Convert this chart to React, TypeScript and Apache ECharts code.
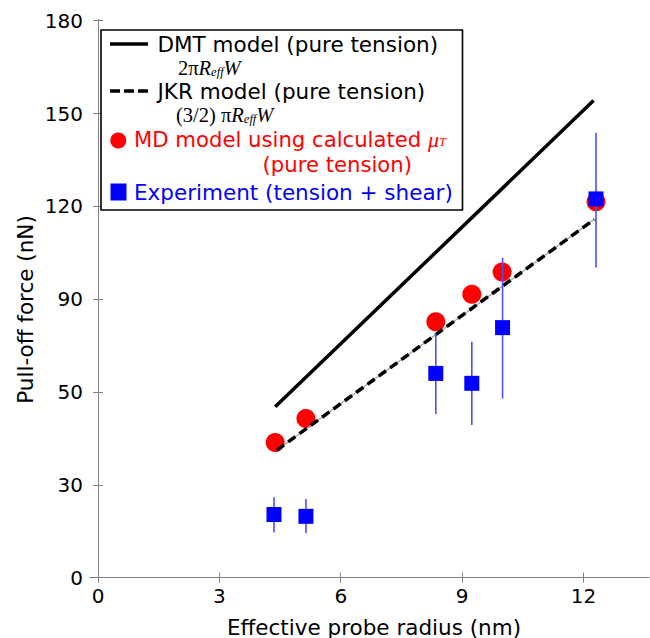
import React, { useEffect, useRef } from "react";
import * as echarts from "echarts";

const xTicks = [0, 3, 6, 9, 12];
const yTicks = [0, 30, 60, 90, 120, 150, 180];
const yTickLabels = ["0", "30", "50", "90", "120", "150", "180"];

const dmtX = [4.38, 12.25];
const dmtY = [55.2, 154.2];
const jkrX = [4.42, 12.27];
const jkrY = [41.2, 115.8];

const mdX = [4.38, 5.14, 8.35, 9.24, 9.99, 12.31];
const mdY = [43.7, 51.4, 82.7, 91.6, 98.8, 121.5];

const expX = [4.35, 5.14, 8.35, 9.24, 10.0, 12.31];
const expY = [20.4, 19.8, 66.0, 62.8, 80.8, 122.4];
const expLow = [14.6, 14.3, 52.9, 49.3, 57.9, 100.2];
const expHigh = [26.0, 25.4, 79.0, 76.2, 103.4, 143.8];

const FONT = "DejaVu Sans";
const SERIF = "Liberation Serif";
const LF = 21.5;

export default function App() {
  const ref = useRef<HTMLDivElement>(null);
  useEffect(() => {
    if (!ref.current) return;
    const chart = echarts.init(ref.current, undefined, { renderer: "svg" });
    const axisLine = { show: true, lineStyle: { color: "#808080", width: 1 } };
    const axisTickIn = (vals: number[]) => ({
      show: true,
      inside: true,
      length: 5,
      customValues: vals,
      lineStyle: { color: "#808080", width: 1 },
    });
    const plainText = (text: string, x: number, y: number, color: string, size = LF) => ({
      type: "text",
      x,
      y,
      style: {
        text,
        fill: color,
        fontFamily: FONT,
        fontSize: size,
        lineHeight: 19,
        verticalAlign: "middle",
      },
      z: 101,
    });
    const formulaRich = (color: string) => ({
      n: { fontFamily: SERIF, fontSize: 20.5, fill: color, lineHeight: 19 },
      i: { fontFamily: SERIF, fontSize: 20.5, fontStyle: "italic", fill: color, lineHeight: 19 },
      s: { fontFamily: SERIF, fontSize: 12.5, fontStyle: "italic", fill: color, padding: [7, 0, 0, 0], lineHeight: 12 },
    });
    const option: any = {
      animation: false,
      backgroundColor: "#ffffff",
      grid: { left: 90, right: 1, top: 19.5, bottom: 57, containLabel: false },
      xAxis: [
        {
          type: "value",
          min: -0.198,
          max: 13.62,
          axisLine,
          axisTick: axisTickIn(xTicks),
          splitLine: { show: false },
          axisLabel: {
            customValues: xTicks,
            color: "#000",
            fontFamily: FONT,
            fontSize: 20,
            margin: 5,
          },
        },
        {
          type: "value",
          position: "top",
          min: -0.198,
          max: 13.62,
          axisLine,
          axisTick: axisTickIn(xTicks),
          splitLine: { show: false },
          axisLabel: { show: false },
        },
      ],
      yAxis: [
        {
          type: "value",
          min: -1.1,
          max: 180.4,
          axisLine,
          axisTick: axisTickIn(yTicks),
          splitLine: { show: false },
          axisLabel: {
            customValues: yTicks,
            color: "#000",
            fontFamily: FONT,
            fontSize: 20,
            margin: 7,
            formatter: (v: number) => {
              const i = yTicks.indexOf(v);
              return i >= 0 ? yTickLabels[i] : "";
            },
          },
        },
        {
          type: "value",
          position: "right",
          min: -1.1,
          max: 180.4,
          axisLine,
          axisTick: axisTickIn(yTicks),
          splitLine: { show: false },
          axisLabel: { show: false },
        },
      ],
      series: [
        {
          name: "DMT model (pure tension)",
          type: "line",
          data: dmtX.map((x, i) => [x, dmtY[i]]),
          symbol: "none",
          lineStyle: { color: "#000", width: 3.5, type: "solid" },
          z: 3,
        },
        {
          name: "MD model",
          type: "scatter",
          data: mdX.map((x, i) => [x, mdY[i]]),
          symbol: "circle",
          symbolSize: 19,
          itemStyle: { color: "#ff0000", opacity: 1 },
          z: 4,
        },
        {
          name: "JKR guide",
          type: "line",
          data: jkrX.map((x, i) => [x, jkrY[i]]),
          symbol: "none",
          lineStyle: { color: "#9a9a9a", width: 1.2, type: "solid" },
          z: 5,
        },
        {
          name: "JKR model (pure tension)",
          type: "line",
          data: jkrX.map((x, i) => [x, jkrY[i]]),
          symbol: "none",
          lineStyle: { color: "#000", width: 3.5, type: [9, 5] },
          z: 6,
        },
        {
          name: "error",
          type: "custom",
          data: expX.map((x, i) => [x, expLow[i], expHigh[i]]),
          renderItem: (params: any, api: any) => {
            const x = api.value(0);
            const p1 = api.coord([x, api.value(1)]);
            const p2 = api.coord([x, api.value(2)]);
            return {
              type: "line",
              shape: { x1: p1[0], y1: p1[1], x2: p2[0], y2: p2[1] },
              style: { stroke: "#4d4dff", lineWidth: 1.6 },
            };
          },
          z: 7,
        },
        {
          name: "Experiment (tension + shear)",
          type: "scatter",
          data: expX.map((x, i) => [x, expY[i]]),
          symbol: "rect",
          symbolSize: 15,
          itemStyle: { color: "#0000ff", opacity: 1 },
          z: 8,
        },
      ],
      graphic: [
        {
          type: "text",
          x: 374,
          y: 627,
          style: {
            text: "Effective probe radius (nm)",
            fill: "#000",
            fontFamily: FONT,
            fontSize: LF,
            align: "center",
            verticalAlign: "middle",
          },
        },
        {
          type: "text",
          x: 25,
          y: 309.5,
          rotation: Math.PI / 2,
          style: {
            text: "Pull-off force (nN)",
            fill: "#000",
            fontFamily: FONT,
            fontSize: LF,
            align: "center",
            verticalAlign: "middle",
          },
        },
        {
          type: "rect",
          shape: { x: 101, y: 30, width: 361.5, height: 180 },
          style: { fill: "#fff", stroke: "#000", lineWidth: 1.6 },
          z: 100,
        },
        {
          type: "line",
          shape: { x1: 110, y1: 44, x2: 148, y2: 44 },
          style: { stroke: "#000", lineWidth: 3.3 },
          z: 101,
        },
        plainText("DMT model (pure tension)", 157.5, 44, "#000"),
        {
          type: "text",
          x: 178,
          y: 68,
          style: {
            text: "{n|2π}{i|R}{s|eff}{i|W}",
            verticalAlign: "middle",
            rich: formulaRich("#000"),
          },
          z: 101,
        },
        {
          type: "line",
          shape: { x1: 110, y1: 91, x2: 148, y2: 91 },
          style: { stroke: "#000", lineWidth: 3.3, lineDash: [10, 4] },
          z: 101,
        },
        plainText("JKR model (pure tension)", 157.5, 91, "#000"),
        {
          type: "text",
          x: 176,
          y: 115,
          style: {
            text: "{n|(3/2) π}{i|R}{s|eff}{i|W}",
            verticalAlign: "middle",
            rich: formulaRich("#000"),
          },
          z: 101,
        },
        {
          type: "circle",
          shape: { cx: 118.3, cy: 140.5, r: 8 },
          style: { fill: "#ff0000" },
          z: 101,
        },
        {
          type: "text",
          x: 134,
          y: 139.6,
          style: {
            text: "{a|MD model using calculated }{m|μ}{t|T}",
            verticalAlign: "middle",
            rich: {
              a: { fontFamily: FONT, fontSize: 21.2, fill: "#ff0000", lineHeight: 19 },
              m: { fontFamily: SERIF, fontSize: 22, fontStyle: "italic", fill: "#ff0000", lineHeight: 19 },
              t: { fontFamily: SERIF, fontSize: 12.5, fontStyle: "italic", fill: "#ff0000", padding: [5, 0, 0, 0], lineHeight: 12 },
            },
          },
          z: 101,
        },
        plainText("(pure tension)", 262.5, 164, "#ff0000", 21.2),
        {
          type: "rect",
          shape: { x: 110.5, y: 183.5, width: 16, height: 17 },
          style: { fill: "#0000ff" },
          z: 101,
        },
        plainText("Experiment (tension + shear)", 134, 192.3, "#0000ff"),
      ],
    };
    chart.setOption(option);
    return () => chart.dispose();
  }, []);
  return (
    <div
      ref={ref}
      style={{ position: "fixed", left: 0, top: 0, width: 650, height: 638, background: "#fff" }}
    />
  );
}
